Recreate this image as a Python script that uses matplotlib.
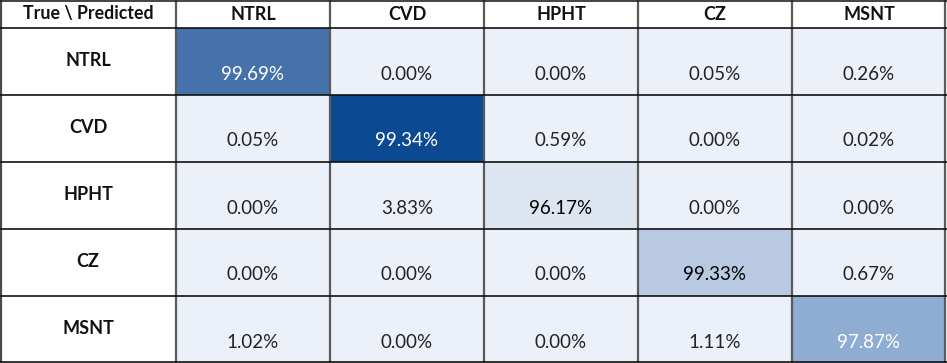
"""Confusion matrix drawn as a spreadsheet-style table."""

import matplotlib.pyplot as plt
from matplotlib.patches import Rectangle

classes = ["NTRL", "CVD", "HPHT", "CZ", "MSNT"]
corner_label = "True \\ Predicted"
values = [
    [99.69, 0.00, 0.00, 0.05, 0.26],
    [0.05, 99.34, 0.59, 0.00, 0.02],
    [0.00, 3.83, 96.17, 0.00, 0.00],
    [0.00, 0.00, 0.00, 99.33, 0.67],
    [1.02, 0.00, 0.00, 1.11, 97.87],
]

# cell fills as in the original sheet (diagonal shaded individually)
diag_fill = ["#4572AA", "#0B4A92", "#DDE5F1", "#B8C9E1", "#8FADD2"]
diag_text = ["white", "white", "black", "black", "white"]
off_fill = "#ECF1F9"

W, H = 947, 363
first_w, cell_w = 176, 154
head_h, row_h = 28, 67

plt.rcParams["font.family"] = ["Lato", "DejaVu Sans"]

fig = plt.figure(figsize=(W / 100, H / 100), dpi=100)
ax = fig.add_axes([0, 0, 1, 1])
ax.set_xlim(0, W)
ax.set_ylim(H, 0)
ax.axis("off")


def col_x(j):
    return first_w + j * cell_w


def row_y(i):
    return head_h + i * row_h


# header row
ax.text(first_w / 2, head_h / 2, corner_label, ha="center", va="center",
        fontsize=12.8, fontweight="bold", color="#111111")
for j, name in enumerate(classes):
    ax.text(col_x(j) + cell_w / 2, head_h / 2, name, ha="center", va="center",
            fontsize=13, fontweight="bold", color="#111111")

for i, name in enumerate(classes):
    y0 = row_y(i)
    ax.text(first_w / 2, y0 + row_h / 2 - 1, name, ha="center", va="center",
            fontsize=13, fontweight="bold", color="#111111")
    for j, v in enumerate(values[i]):
        x0 = col_x(j)
        fill = diag_fill[i] if i == j else off_fill
        tc = diag_text[i] if i == j else "#222222"
        ax.add_patch(Rectangle((x0, y0), cell_w, row_h, facecolor=fill,
                               edgecolor="none", zorder=1))
        ax.text(x0 + cell_w / 2, y0 + row_h - 21, f"{v:.2f}%", ha="center",
                va="center", fontsize=13.5, color=tc, zorder=3)

# grid lines: dark grey verticals, black horizontals
n = len(classes)
bottom = row_y(n) - 1
ax.plot([1, 1], [0, bottom], color="#4a4a4a", lw=1.6, zorder=4)
for j in range(n + 1):
    x = col_x(j) if j < n else W - 2
    ax.plot([x, x], [0, bottom], color="#5a5a5a", lw=1.6, zorder=4)
ax.plot([0, W], [1, 1], color="#222222", lw=1.2, zorder=4)
for i in range(n + 1):
    y = row_y(i) if i < n else bottom
    ax.plot([0, W], [y, y], color="#111111", lw=1.2, zorder=4)

fig.savefig("out.png", dpi=100)
